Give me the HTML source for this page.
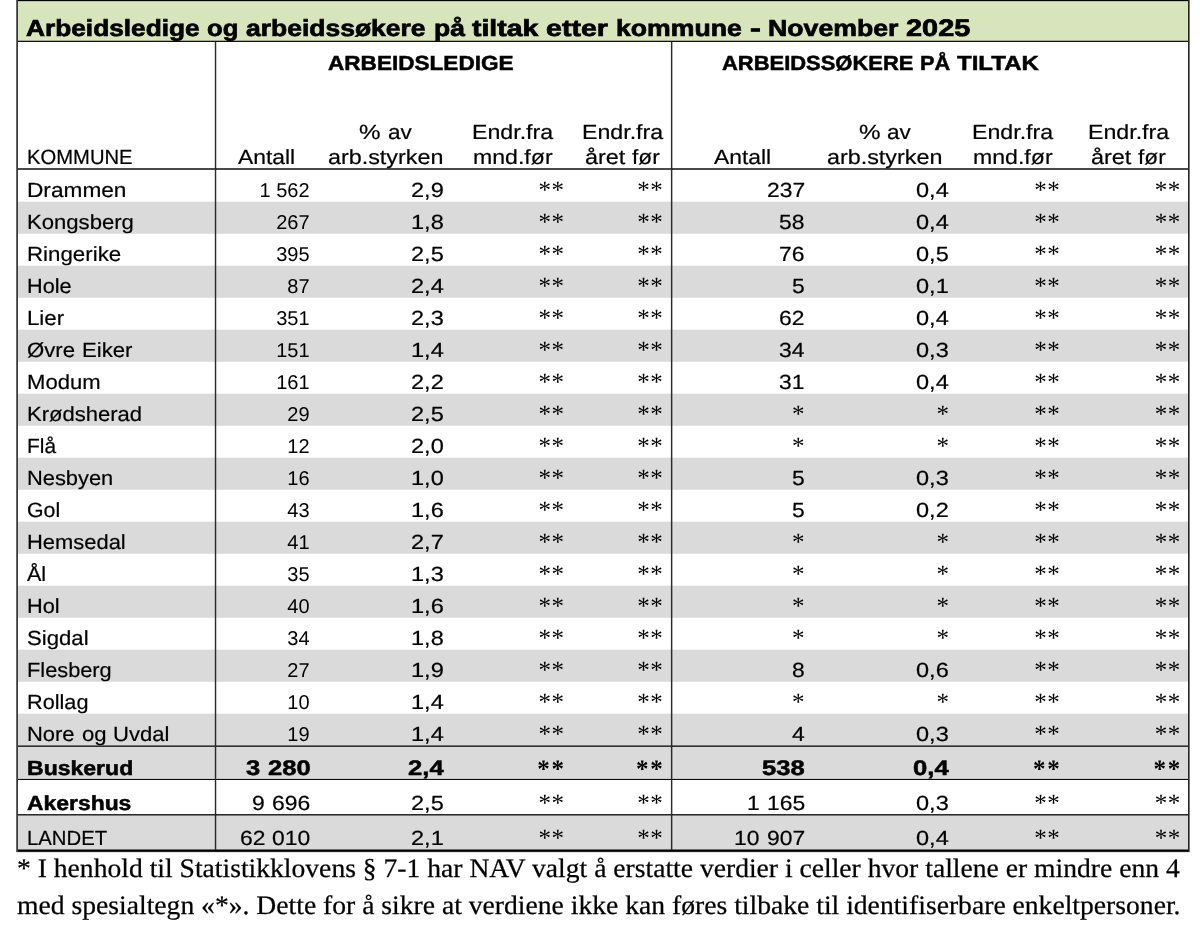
<!DOCTYPE html>
<html lang="no"><head><meta charset="utf-8"><title>Arbeidsledige og arbeidssøkere på tiltak etter kommune</title>
<style>
html,body{margin:0;padding:0;background:#fff}
body{width:1200px;height:946px;position:relative;overflow:hidden;font-family:"Liberation Sans",sans-serif;color:#000}
.b{position:absolute}
.t{position:absolute;white-space:pre;height:30px;line-height:30px}
.l{transform-origin:0 50%}.r{transform-origin:100% 50%}.c{transform-origin:50% 50%}
.s{font-family:"Liberation Serif",serif}
.g{background:#dadada;left:18px;width:1170px;border-top:1px solid #f2f2f2;border-bottom:1px solid #e4e4e4}
.k{background:#1a1a1a}
#txt{position:absolute;left:0;top:0;width:1200px;height:946px;will-change:transform;text-rendering:geometricPrecision}
</style></head><body>
<div class="b " style="left:18px;top:1px;width:1170px;height:40px;background:#d8e4bc"></div>
<div class="b g" style="top:201px;height:31px"></div>
<div class="b g" style="top:265px;height:31px"></div>
<div class="b g" style="top:329px;height:31px"></div>
<div class="b g" style="top:393px;height:31px"></div>
<div class="b g" style="top:457px;height:31px"></div>
<div class="b g" style="top:521px;height:31px"></div>
<div class="b g" style="top:585px;height:31px"></div>
<div class="b g" style="top:649px;height:31px"></div>
<div class="b g" style="top:713px;height:31px"></div>
<div class="b g" style="top:746px;height:31px"></div>
<div class="b g" style="top:815px;height:34px"></div>
<div class="b" style="left:16px;top:0px;width:1174px;height:1px;background:#000"></div>
<div class="b" style="left:16px;top:1px;width:1174px;height:1px;background:rgba(0,0,0,.15)"></div>
<div class="b" style="left:16px;top:40px;width:1174px;height:1px;background:rgba(0,0,0,.25)"></div>
<div class="b" style="left:16px;top:41px;width:1174px;height:1px;background:#111"></div>
<div class="b" style="left:16px;top:168px;width:1174px;height:1px;background:#4a4a4a"></div>
<div class="b" style="left:16px;top:169px;width:1174px;height:1px;background:#4a4a4a"></div>
<div class="b" style="left:16px;top:745px;width:1174px;height:1px;background:rgba(0,0,0,.5)"></div>
<div class="b" style="left:16px;top:746px;width:1174px;height:1px;background:#303030"></div>
<div class="b" style="left:16px;top:778px;width:1174px;height:1px;background:rgba(0,0,0,.12)"></div>
<div class="b" style="left:16px;top:779px;width:1174px;height:1px;background:#0a0a0a"></div>
<div class="b" style="left:16px;top:814px;width:1174px;height:1px;background:#2a2a2a"></div>
<div class="b" style="left:16px;top:815px;width:1174px;height:1px;background:rgba(0,0,0,.5)"></div>
<div class="b" style="left:16px;top:849px;width:1174px;height:1px;background:rgba(0,0,0,.5)"></div>
<div class="b" style="left:16px;top:850px;width:1174px;height:1px;background:#000"></div>
<div class="b" style="left:16px;top:851px;width:1174px;height:1px;background:#1c1c1c"></div>
<div class="b" style="left:16px;top:852px;width:1174px;height:1px;background:rgba(0,0,0,.1)"></div>
<div class="b" style="left:16px;top:0px;width:1px;height:852px;background:#666"></div>
<div class="b" style="left:17px;top:0px;width:1px;height:852px;background:#3a3a3a"></div>
<div class="b" style="left:1188px;top:0px;width:1px;height:852px;background:#262626"></div>
<div class="b" style="left:1189px;top:0px;width:1px;height:852px;background:#777"></div>
<div class="b" style="left:214px;top:42px;width:1px;height:808px;background:rgba(0,0,0,.15)"></div>
<div class="b" style="left:215px;top:42px;width:1px;height:808px;background:#2a2a2a"></div>
<div class="b" style="left:216px;top:42px;width:1px;height:808px;background:rgba(0,0,0,.2)"></div>
<div class="b" style="left:671px;top:42px;width:1px;height:808px;background:#2a2a2a"></div>
<div class="b" style="left:672px;top:42px;width:1px;height:808px;background:rgba(0,0,0,.3)"></div>
<div class="b" style="left:670px;top:42px;width:1px;height:808px;background:rgba(0,0,0,.08)"></div>
<div id="txt">
<div class="row">
<div class="t l" style="top:13px;font-size:23.2px;font-weight:bold;-webkit-text-stroke:0.7px #000;left:25.80px;transform:scaleX(1.1329);">Arbeidsledige</div>
<div class="t l" style="top:13px;font-size:23.2px;font-weight:bold;-webkit-text-stroke:0.7px #000;left:207.26px;transform:scaleX(1.1067);">og</div>
<div class="t l" style="top:13px;font-size:23.2px;font-weight:bold;-webkit-text-stroke:0.7px #000;left:246.34px;transform:scaleX(1.1417);">arbeidssøkere</div>
<div class="t l" style="top:13px;font-size:23.2px;font-weight:bold;-webkit-text-stroke:0.7px #000;left:433.64px;transform:scaleX(1.1426);">på</div>
<div class="t l" style="top:13px;font-size:23.2px;font-weight:bold;-webkit-text-stroke:0.7px #000;left:472.30px;transform:scaleX(1.2266);">tiltak</div>
<div class="t l" style="top:13px;font-size:23.2px;font-weight:bold;-webkit-text-stroke:0.7px #000;left:546.42px;transform:scaleX(1.2317);">etter</div>
<div class="t l" style="top:13px;font-size:23.2px;font-weight:bold;-webkit-text-stroke:0.7px #000;left:616.07px;transform:scaleX(1.1486);">kommune</div>
<div class="t l" style="top:13px;font-size:23.2px;font-weight:bold;-webkit-text-stroke:0.7px #000;left:749.62px;transform:scaleX(1.4038);">-</div>
<div class="t l" style="top:13px;font-size:23.2px;font-weight:bold;-webkit-text-stroke:0.7px #000;left:768.21px;transform:scaleX(1.1501);">November</div>
<div class="t l" style="top:14px;font-size:23.896px;font-weight:bold;-webkit-text-stroke:0.7px #000;left:906.37px;transform:scaleX(1.2109);">2025</div>
</div>
<div class="row">
<div class="t l" style="top:49px;font-size:20.5px;font-weight:bold;-webkit-text-stroke:0.5px #000;left:327.50px;transform:scaleX(1.1009);">ARBEIDSLEDIGE</div>
<div class="t l" style="top:49px;font-size:20.5px;font-weight:bold;-webkit-text-stroke:0.5px #000;left:722.00px;transform:scaleX(1.0700);">ARBEIDSSØKERE</div>
<div class="t l" style="top:49px;font-size:20.5px;font-weight:bold;-webkit-text-stroke:0.5px #000;left:920.20px;transform:scaleX(1.0595);">PÅ</div>
<div class="t l" style="top:49px;font-size:20.5px;font-weight:bold;-webkit-text-stroke:0.5px #000;left:957.22px;transform:scaleX(1.1726);">TILTAK</div>
<div class="t l" style="top:143px;font-size:20.5px;-webkit-text-stroke:0.2px #000;left:26.50px;transform:scaleX(0.9860);">KOMMUNE</div>
<div class="t l" style="top:143px;font-size:20.5px;-webkit-text-stroke:0.2px #000;left:238.30px;transform:scaleX(1.1154);">Antall</div>
<div class="t l" style="top:118px;font-size:20.5px;-webkit-text-stroke:0.2px #000;left:359.09px;transform:scaleX(1.1802);">%</div>
<div class="t l" style="top:118px;font-size:20.5px;-webkit-text-stroke:0.2px #000;left:387.65px;transform:scaleX(1.1018);">av</div>
<div class="t l" style="top:143px;font-size:20.5px;-webkit-text-stroke:0.2px #000;left:327.60px;transform:scaleX(1.1380);">arb.styrken</div>
<div class="t l" style="top:118px;font-size:20.5px;-webkit-text-stroke:0.2px #000;left:472.11px;transform:scaleX(1.1307);">Endr.fra</div>
<div class="t l" style="top:143px;font-size:20.5px;-webkit-text-stroke:0.2px #000;left:472.91px;transform:scaleX(1.1268);">mnd.før</div>
<div class="t l" style="top:118px;font-size:20.5px;-webkit-text-stroke:0.2px #000;left:581.81px;transform:scaleX(1.1307);">Endr.fra</div>
<div class="t l" style="top:143px;font-size:20.5px;-webkit-text-stroke:0.2px #000;left:584.84px;transform:scaleX(1.1424);">året</div>
<div class="t l" style="top:143px;font-size:20.5px;-webkit-text-stroke:0.2px #000;left:632.24px;transform:scaleX(1.1067);">før</div>
<div class="t l" style="top:143px;font-size:20.5px;-webkit-text-stroke:0.2px #000;left:713.65px;transform:scaleX(1.1154);">Antall</div>
<div class="t l" style="top:118px;font-size:20.5px;-webkit-text-stroke:0.2px #000;left:858.89px;transform:scaleX(1.1802);">%</div>
<div class="t l" style="top:118px;font-size:20.5px;-webkit-text-stroke:0.2px #000;left:887.45px;transform:scaleX(1.1018);">av</div>
<div class="t l" style="top:143px;font-size:20.5px;-webkit-text-stroke:0.2px #000;left:827.40px;transform:scaleX(1.1380);">arb.styrken</div>
<div class="t l" style="top:118px;font-size:20.5px;-webkit-text-stroke:0.2px #000;left:972.31px;transform:scaleX(1.1307);">Endr.fra</div>
<div class="t l" style="top:143px;font-size:20.5px;-webkit-text-stroke:0.2px #000;left:973.11px;transform:scaleX(1.1268);">mnd.før</div>
<div class="t l" style="top:118px;font-size:20.5px;-webkit-text-stroke:0.2px #000;left:1088.01px;transform:scaleX(1.1307);">Endr.fra</div>
<div class="t l" style="top:143px;font-size:20.5px;-webkit-text-stroke:0.2px #000;left:1091.04px;transform:scaleX(1.1424);">året</div>
<div class="t l" style="top:143px;font-size:20.5px;-webkit-text-stroke:0.2px #000;left:1138.44px;transform:scaleX(1.1067);">før</div>
</div>
<div class="row">
<div class="t l" style="top:176px;font-size:20.5px;-webkit-text-stroke:0.2px #000;left:26.90px;transform:scaleX(1.1053);">Drammen</div>
<div class="t r" style="top:176px;font-size:20px;right:890.40px;">1 562</div>
<div class="t l" style="top:176px;font-size:20.5px;-webkit-text-stroke:0.2px #000;left:410.78px;transform:scaleX(1.1481);">2,9</div>
<div class="t r s" style="top:176px;font-size:25px;letter-spacing:0.5px;right:635.50px;">**</div>
<div class="t r s" style="top:176px;font-size:25px;letter-spacing:0.5px;right:536.75px;">**</div>
<div class="t l" style="top:176px;font-size:20.5px;-webkit-text-stroke:0.2px #000;left:766.59px;transform:scaleX(1.1152);">237</div>
<div class="t l" style="top:176px;font-size:20.5px;-webkit-text-stroke:0.2px #000;left:916.28px;transform:scaleX(1.1481);">0,4</div>
<div class="t r s" style="top:176px;font-size:25px;letter-spacing:0.5px;right:139.75px;">**</div>
<div class="t r s" style="top:176px;font-size:25px;letter-spacing:0.5px;right:19.25px;">**</div>
</div>
<div class="row">
<div class="t l" style="top:208px;font-size:20.5px;-webkit-text-stroke:0.2px #000;left:26.90px;transform:scaleX(1.0781);">Kongsberg</div>
<div class="t r" style="top:208px;font-size:20px;right:890.40px;">267</div>
<div class="t l" style="top:208px;font-size:20.5px;-webkit-text-stroke:0.2px #000;left:410.78px;transform:scaleX(1.1481);">1,8</div>
<div class="t r s" style="top:208px;font-size:25px;letter-spacing:0.5px;right:635.50px;">**</div>
<div class="t r s" style="top:208px;font-size:25px;letter-spacing:0.5px;right:536.75px;">**</div>
<div class="t l" style="top:208px;font-size:20.5px;-webkit-text-stroke:0.2px #000;left:779.31px;transform:scaleX(1.1152);">58</div>
<div class="t l" style="top:208px;font-size:20.5px;-webkit-text-stroke:0.2px #000;left:916.28px;transform:scaleX(1.1481);">0,4</div>
<div class="t r s" style="top:208px;font-size:25px;letter-spacing:0.5px;right:139.75px;">**</div>
<div class="t r s" style="top:208px;font-size:25px;letter-spacing:0.5px;right:19.25px;">**</div>
</div>
<div class="row">
<div class="t l" style="top:240px;font-size:20.5px;-webkit-text-stroke:0.2px #000;left:26.90px;transform:scaleX(1.0876);">Ringerike</div>
<div class="t r" style="top:240px;font-size:20px;right:890.40px;">395</div>
<div class="t l" style="top:240px;font-size:20.5px;-webkit-text-stroke:0.2px #000;left:410.78px;transform:scaleX(1.1481);">2,5</div>
<div class="t r s" style="top:240px;font-size:25px;letter-spacing:0.5px;right:635.50px;">**</div>
<div class="t r s" style="top:240px;font-size:25px;letter-spacing:0.5px;right:536.75px;">**</div>
<div class="t l" style="top:240px;font-size:20.5px;-webkit-text-stroke:0.2px #000;left:779.31px;transform:scaleX(1.1152);">76</div>
<div class="t l" style="top:240px;font-size:20.5px;-webkit-text-stroke:0.2px #000;left:916.28px;transform:scaleX(1.1481);">0,5</div>
<div class="t r s" style="top:240px;font-size:25px;letter-spacing:0.5px;right:139.75px;">**</div>
<div class="t r s" style="top:240px;font-size:25px;letter-spacing:0.5px;right:19.25px;">**</div>
</div>
<div class="row">
<div class="t l" style="top:272px;font-size:20.5px;-webkit-text-stroke:0.2px #000;left:26.90px;transform:scaleX(1.0566);">Hole</div>
<div class="t r" style="top:272px;font-size:20px;right:890.40px;">87</div>
<div class="t l" style="top:272px;font-size:20.5px;-webkit-text-stroke:0.2px #000;left:410.78px;transform:scaleX(1.1481);">2,4</div>
<div class="t r s" style="top:272px;font-size:25px;letter-spacing:0.5px;right:635.50px;">**</div>
<div class="t r s" style="top:272px;font-size:25px;letter-spacing:0.5px;right:536.75px;">**</div>
<div class="t l" style="top:272px;font-size:20.5px;-webkit-text-stroke:0.2px #000;left:792.03px;transform:scaleX(1.1152);">5</div>
<div class="t l" style="top:272px;font-size:20.5px;-webkit-text-stroke:0.2px #000;left:916.28px;transform:scaleX(1.1481);">0,1</div>
<div class="t r s" style="top:272px;font-size:25px;letter-spacing:0.5px;right:139.75px;">**</div>
<div class="t r s" style="top:272px;font-size:25px;letter-spacing:0.5px;right:19.25px;">**</div>
</div>
<div class="row">
<div class="t l" style="top:304px;font-size:20.5px;-webkit-text-stroke:0.2px #000;left:26.90px;transform:scaleX(1.0846);">Lier</div>
<div class="t r" style="top:304px;font-size:20px;right:890.40px;">351</div>
<div class="t l" style="top:304px;font-size:20.5px;-webkit-text-stroke:0.2px #000;left:410.78px;transform:scaleX(1.1481);">2,3</div>
<div class="t r s" style="top:304px;font-size:25px;letter-spacing:0.5px;right:635.50px;">**</div>
<div class="t r s" style="top:304px;font-size:25px;letter-spacing:0.5px;right:536.75px;">**</div>
<div class="t l" style="top:304px;font-size:20.5px;-webkit-text-stroke:0.2px #000;left:779.31px;transform:scaleX(1.1152);">62</div>
<div class="t l" style="top:304px;font-size:20.5px;-webkit-text-stroke:0.2px #000;left:916.28px;transform:scaleX(1.1481);">0,4</div>
<div class="t r s" style="top:304px;font-size:25px;letter-spacing:0.5px;right:139.75px;">**</div>
<div class="t r s" style="top:304px;font-size:25px;letter-spacing:0.5px;right:19.25px;">**</div>
</div>
<div class="row">
<div class="t l" style="top:336px;font-size:20.5px;-webkit-text-stroke:0.2px #000;left:26.90px;transform:scaleX(1.0811);">Øvre</div>
<div class="t l" style="top:336px;font-size:20.5px;-webkit-text-stroke:0.2px #000;left:81.98px;transform:scaleX(1.0792);">Eiker</div>
<div class="t r" style="top:336px;font-size:20px;right:890.40px;">151</div>
<div class="t l" style="top:336px;font-size:20.5px;-webkit-text-stroke:0.2px #000;left:410.78px;transform:scaleX(1.1481);">1,4</div>
<div class="t r s" style="top:336px;font-size:25px;letter-spacing:0.5px;right:635.50px;">**</div>
<div class="t r s" style="top:336px;font-size:25px;letter-spacing:0.5px;right:536.75px;">**</div>
<div class="t l" style="top:336px;font-size:20.5px;-webkit-text-stroke:0.2px #000;left:779.31px;transform:scaleX(1.1152);">34</div>
<div class="t l" style="top:336px;font-size:20.5px;-webkit-text-stroke:0.2px #000;left:916.28px;transform:scaleX(1.1481);">0,3</div>
<div class="t r s" style="top:336px;font-size:25px;letter-spacing:0.5px;right:139.75px;">**</div>
<div class="t r s" style="top:336px;font-size:25px;letter-spacing:0.5px;right:19.25px;">**</div>
</div>
<div class="row">
<div class="t l" style="top:368px;font-size:20.5px;-webkit-text-stroke:0.2px #000;left:26.90px;transform:scaleX(1.0764);">Modum</div>
<div class="t r" style="top:368px;font-size:20px;right:890.40px;">161</div>
<div class="t l" style="top:368px;font-size:20.5px;-webkit-text-stroke:0.2px #000;left:410.78px;transform:scaleX(1.1481);">2,2</div>
<div class="t r s" style="top:368px;font-size:25px;letter-spacing:0.5px;right:635.50px;">**</div>
<div class="t r s" style="top:368px;font-size:25px;letter-spacing:0.5px;right:536.75px;">**</div>
<div class="t l" style="top:368px;font-size:20.5px;-webkit-text-stroke:0.2px #000;left:779.31px;transform:scaleX(1.1152);">31</div>
<div class="t l" style="top:368px;font-size:20.5px;-webkit-text-stroke:0.2px #000;left:916.28px;transform:scaleX(1.1481);">0,4</div>
<div class="t r s" style="top:368px;font-size:25px;letter-spacing:0.5px;right:139.75px;">**</div>
<div class="t r s" style="top:368px;font-size:25px;letter-spacing:0.5px;right:19.25px;">**</div>
</div>
<div class="row">
<div class="t l" style="top:400px;font-size:20.5px;-webkit-text-stroke:0.2px #000;left:26.90px;transform:scaleX(1.0739);">Krødsherad</div>
<div class="t r" style="top:400px;font-size:20px;right:890.40px;">29</div>
<div class="t l" style="top:400px;font-size:20.5px;-webkit-text-stroke:0.2px #000;left:410.78px;transform:scaleX(1.1481);">2,5</div>
<div class="t r s" style="top:400px;font-size:25px;letter-spacing:0.5px;right:635.50px;">**</div>
<div class="t r s" style="top:400px;font-size:25px;letter-spacing:0.5px;right:536.75px;">**</div>
<div class="t r s" style="top:400px;font-size:25px;letter-spacing:0.5px;right:395.00px;">*</div>
<div class="t r s" style="top:400px;font-size:25px;letter-spacing:0.5px;right:250.50px;">*</div>
<div class="t r s" style="top:400px;font-size:25px;letter-spacing:0.5px;right:139.75px;">**</div>
<div class="t r s" style="top:400px;font-size:25px;letter-spacing:0.5px;right:19.25px;">**</div>
</div>
<div class="row">
<div class="t l" style="top:432px;font-size:20.5px;-webkit-text-stroke:0.2px #000;left:26.90px;transform:scaleX(1.0181);">Flå</div>
<div class="t r" style="top:432px;font-size:20px;right:890.40px;">12</div>
<div class="t l" style="top:432px;font-size:20.5px;-webkit-text-stroke:0.2px #000;left:410.78px;transform:scaleX(1.1481);">2,0</div>
<div class="t r s" style="top:432px;font-size:25px;letter-spacing:0.5px;right:635.50px;">**</div>
<div class="t r s" style="top:432px;font-size:25px;letter-spacing:0.5px;right:536.75px;">**</div>
<div class="t r s" style="top:432px;font-size:25px;letter-spacing:0.5px;right:395.00px;">*</div>
<div class="t r s" style="top:432px;font-size:25px;letter-spacing:0.5px;right:250.50px;">*</div>
<div class="t r s" style="top:432px;font-size:25px;letter-spacing:0.5px;right:139.75px;">**</div>
<div class="t r s" style="top:432px;font-size:25px;letter-spacing:0.5px;right:19.25px;">**</div>
</div>
<div class="row">
<div class="t l" style="top:464px;font-size:20.5px;-webkit-text-stroke:0.2px #000;left:26.90px;transform:scaleX(1.0650);">Nesbyen</div>
<div class="t r" style="top:464px;font-size:20px;right:890.40px;">16</div>
<div class="t l" style="top:464px;font-size:20.5px;-webkit-text-stroke:0.2px #000;left:410.78px;transform:scaleX(1.1481);">1,0</div>
<div class="t r s" style="top:464px;font-size:25px;letter-spacing:0.5px;right:635.50px;">**</div>
<div class="t r s" style="top:464px;font-size:25px;letter-spacing:0.5px;right:536.75px;">**</div>
<div class="t l" style="top:464px;font-size:20.5px;-webkit-text-stroke:0.2px #000;left:792.03px;transform:scaleX(1.1152);">5</div>
<div class="t l" style="top:464px;font-size:20.5px;-webkit-text-stroke:0.2px #000;left:916.28px;transform:scaleX(1.1481);">0,3</div>
<div class="t r s" style="top:464px;font-size:25px;letter-spacing:0.5px;right:139.75px;">**</div>
<div class="t r s" style="top:464px;font-size:25px;letter-spacing:0.5px;right:19.25px;">**</div>
</div>
<div class="row">
<div class="t l" style="top:496px;font-size:20.5px;-webkit-text-stroke:0.2px #000;left:26.90px;transform:scaleX(1.0380);">Gol</div>
<div class="t r" style="top:496px;font-size:20px;right:890.40px;">43</div>
<div class="t l" style="top:496px;font-size:20.5px;-webkit-text-stroke:0.2px #000;left:410.78px;transform:scaleX(1.1481);">1,6</div>
<div class="t r s" style="top:496px;font-size:25px;letter-spacing:0.5px;right:635.50px;">**</div>
<div class="t r s" style="top:496px;font-size:25px;letter-spacing:0.5px;right:536.75px;">**</div>
<div class="t l" style="top:496px;font-size:20.5px;-webkit-text-stroke:0.2px #000;left:792.03px;transform:scaleX(1.1152);">5</div>
<div class="t l" style="top:496px;font-size:20.5px;-webkit-text-stroke:0.2px #000;left:916.28px;transform:scaleX(1.1481);">0,2</div>
<div class="t r s" style="top:496px;font-size:25px;letter-spacing:0.5px;right:139.75px;">**</div>
<div class="t r s" style="top:496px;font-size:25px;letter-spacing:0.5px;right:19.25px;">**</div>
</div>
<div class="row">
<div class="t l" style="top:528px;font-size:20.5px;-webkit-text-stroke:0.2px #000;left:26.90px;transform:scaleX(1.0694);">Hemsedal</div>
<div class="t r" style="top:528px;font-size:20px;right:890.40px;">41</div>
<div class="t l" style="top:528px;font-size:20.5px;-webkit-text-stroke:0.2px #000;left:410.78px;transform:scaleX(1.1481);">2,7</div>
<div class="t r s" style="top:528px;font-size:25px;letter-spacing:0.5px;right:635.50px;">**</div>
<div class="t r s" style="top:528px;font-size:25px;letter-spacing:0.5px;right:536.75px;">**</div>
<div class="t r s" style="top:528px;font-size:25px;letter-spacing:0.5px;right:395.00px;">*</div>
<div class="t r s" style="top:528px;font-size:25px;letter-spacing:0.5px;right:250.50px;">*</div>
<div class="t r s" style="top:528px;font-size:25px;letter-spacing:0.5px;right:139.75px;">**</div>
<div class="t r s" style="top:528px;font-size:25px;letter-spacing:0.5px;right:19.25px;">**</div>
</div>
<div class="row">
<div class="t l" style="top:560px;font-size:20.5px;-webkit-text-stroke:0.2px #000;left:26.90px;transform:scaleX(1.0508);">Ål</div>
<div class="t r" style="top:560px;font-size:20px;right:890.40px;">35</div>
<div class="t l" style="top:560px;font-size:20.5px;-webkit-text-stroke:0.2px #000;left:410.78px;transform:scaleX(1.1481);">1,3</div>
<div class="t r s" style="top:560px;font-size:25px;letter-spacing:0.5px;right:635.50px;">**</div>
<div class="t r s" style="top:560px;font-size:25px;letter-spacing:0.5px;right:536.75px;">**</div>
<div class="t r s" style="top:560px;font-size:25px;letter-spacing:0.5px;right:395.00px;">*</div>
<div class="t r s" style="top:560px;font-size:25px;letter-spacing:0.5px;right:250.50px;">*</div>
<div class="t r s" style="top:560px;font-size:25px;letter-spacing:0.5px;right:139.75px;">**</div>
<div class="t r s" style="top:560px;font-size:25px;letter-spacing:0.5px;right:19.25px;">**</div>
</div>
<div class="row">
<div class="t l" style="top:592px;font-size:20.5px;-webkit-text-stroke:0.2px #000;left:26.90px;transform:scaleX(1.0609);">Hol</div>
<div class="t r" style="top:592px;font-size:20px;right:890.40px;">40</div>
<div class="t l" style="top:592px;font-size:20.5px;-webkit-text-stroke:0.2px #000;left:410.78px;transform:scaleX(1.1481);">1,6</div>
<div class="t r s" style="top:592px;font-size:25px;letter-spacing:0.5px;right:635.50px;">**</div>
<div class="t r s" style="top:592px;font-size:25px;letter-spacing:0.5px;right:536.75px;">**</div>
<div class="t r s" style="top:592px;font-size:25px;letter-spacing:0.5px;right:395.00px;">*</div>
<div class="t r s" style="top:592px;font-size:25px;letter-spacing:0.5px;right:250.50px;">*</div>
<div class="t r s" style="top:592px;font-size:25px;letter-spacing:0.5px;right:139.75px;">**</div>
<div class="t r s" style="top:592px;font-size:25px;letter-spacing:0.5px;right:19.25px;">**</div>
</div>
<div class="row">
<div class="t l" style="top:624px;font-size:20.5px;-webkit-text-stroke:0.2px #000;left:26.90px;transform:scaleX(1.0804);">Sigdal</div>
<div class="t r" style="top:624px;font-size:20px;right:890.40px;">34</div>
<div class="t l" style="top:624px;font-size:20.5px;-webkit-text-stroke:0.2px #000;left:410.78px;transform:scaleX(1.1481);">1,8</div>
<div class="t r s" style="top:624px;font-size:25px;letter-spacing:0.5px;right:635.50px;">**</div>
<div class="t r s" style="top:624px;font-size:25px;letter-spacing:0.5px;right:536.75px;">**</div>
<div class="t r s" style="top:624px;font-size:25px;letter-spacing:0.5px;right:395.00px;">*</div>
<div class="t r s" style="top:624px;font-size:25px;letter-spacing:0.5px;right:250.50px;">*</div>
<div class="t r s" style="top:624px;font-size:25px;letter-spacing:0.5px;right:139.75px;">**</div>
<div class="t r s" style="top:624px;font-size:25px;letter-spacing:0.5px;right:19.25px;">**</div>
</div>
<div class="row">
<div class="t l" style="top:656px;font-size:20.5px;-webkit-text-stroke:0.2px #000;left:26.90px;transform:scaleX(1.0619);">Flesberg</div>
<div class="t r" style="top:656px;font-size:20px;right:890.40px;">27</div>
<div class="t l" style="top:656px;font-size:20.5px;-webkit-text-stroke:0.2px #000;left:410.78px;transform:scaleX(1.1481);">1,9</div>
<div class="t r s" style="top:656px;font-size:25px;letter-spacing:0.5px;right:635.50px;">**</div>
<div class="t r s" style="top:656px;font-size:25px;letter-spacing:0.5px;right:536.75px;">**</div>
<div class="t l" style="top:656px;font-size:20.5px;-webkit-text-stroke:0.2px #000;left:792.03px;transform:scaleX(1.1152);">8</div>
<div class="t l" style="top:656px;font-size:20.5px;-webkit-text-stroke:0.2px #000;left:916.28px;transform:scaleX(1.1481);">0,6</div>
<div class="t r s" style="top:656px;font-size:25px;letter-spacing:0.5px;right:139.75px;">**</div>
<div class="t r s" style="top:656px;font-size:25px;letter-spacing:0.5px;right:19.25px;">**</div>
</div>
<div class="row">
<div class="t l" style="top:688px;font-size:20.5px;-webkit-text-stroke:0.2px #000;left:26.90px;transform:scaleX(1.0577);">Rollag</div>
<div class="t r" style="top:688px;font-size:20px;right:890.40px;">10</div>
<div class="t l" style="top:688px;font-size:20.5px;-webkit-text-stroke:0.2px #000;left:410.78px;transform:scaleX(1.1481);">1,4</div>
<div class="t r s" style="top:688px;font-size:25px;letter-spacing:0.5px;right:635.50px;">**</div>
<div class="t r s" style="top:688px;font-size:25px;letter-spacing:0.5px;right:536.75px;">**</div>
<div class="t r s" style="top:688px;font-size:25px;letter-spacing:0.5px;right:395.00px;">*</div>
<div class="t r s" style="top:688px;font-size:25px;letter-spacing:0.5px;right:250.50px;">*</div>
<div class="t r s" style="top:688px;font-size:25px;letter-spacing:0.5px;right:139.75px;">**</div>
<div class="t r s" style="top:688px;font-size:25px;letter-spacing:0.5px;right:19.25px;">**</div>
</div>
<div class="row">
<div class="t l" style="top:720px;font-size:20.5px;-webkit-text-stroke:0.2px #000;left:26.90px;transform:scaleX(1.0703);">Nore</div>
<div class="t l" style="top:720px;font-size:20.5px;-webkit-text-stroke:0.2px #000;left:81.50px;transform:scaleX(1.0784);">og</div>
<div class="t l" style="top:720px;font-size:20.5px;-webkit-text-stroke:0.2px #000;left:113.14px;transform:scaleX(1.0766);">Uvdal</div>
<div class="t r" style="top:720px;font-size:20px;right:890.40px;">19</div>
<div class="t l" style="top:720px;font-size:20.5px;-webkit-text-stroke:0.2px #000;left:410.78px;transform:scaleX(1.1481);">1,4</div>
<div class="t r s" style="top:720px;font-size:25px;letter-spacing:0.5px;right:635.50px;">**</div>
<div class="t r s" style="top:720px;font-size:25px;letter-spacing:0.5px;right:536.75px;">**</div>
<div class="t l" style="top:720px;font-size:20.5px;-webkit-text-stroke:0.2px #000;left:792.03px;transform:scaleX(1.1152);">4</div>
<div class="t l" style="top:720px;font-size:20.5px;-webkit-text-stroke:0.2px #000;left:916.28px;transform:scaleX(1.1481);">0,3</div>
<div class="t r s" style="top:720px;font-size:25px;letter-spacing:0.5px;right:139.75px;">**</div>
<div class="t r s" style="top:720px;font-size:25px;letter-spacing:0.5px;right:19.25px;">**</div>
</div>
<div class="row">
<div class="t l" style="top:754px;font-size:20.5px;font-weight:bold;-webkit-text-stroke:0.5px #000;left:27.00px;transform:scaleX(1.1231);">Buskerud</div>
<div class="t l" style="top:754px;font-size:21.115px;font-weight:bold;-webkit-text-stroke:0.5px #000;left:246.48px;transform:scaleX(1.2102);">3</div>
<div class="t l" style="top:754px;font-size:21.115px;font-weight:bold;-webkit-text-stroke:0.5px #000;left:267.54px;transform:scaleX(1.2107);">280</div>
<div class="t l" style="top:754px;font-size:21.115px;font-weight:bold;-webkit-text-stroke:0.5px #000;left:407.84px;transform:scaleX(1.2146);">2,4</div>
<div class="t r s" style="top:755px;font-size:25px;font-weight:bold;letter-spacing:1.7px;right:634.30px;">**</div>
<div class="t r s" style="top:755px;font-size:25px;font-weight:bold;letter-spacing:1.7px;right:535.55px;">**</div>
<div class="t l" style="top:754px;font-size:21.115px;font-weight:bold;-webkit-text-stroke:0.5px #000;left:762.09px;transform:scaleX(1.2107);">538</div>
<div class="t l" style="top:754px;font-size:21.115px;font-weight:bold;-webkit-text-stroke:0.5px #000;left:913.34px;transform:scaleX(1.2146);">0,4</div>
<div class="t r s" style="top:755px;font-size:25px;font-weight:bold;letter-spacing:1.7px;right:138.55px;">**</div>
<div class="t r s" style="top:755px;font-size:25px;font-weight:bold;letter-spacing:1.7px;right:18.05px;">**</div>
</div>
<div class="row">
<div class="t l" style="top:789px;font-size:20.5px;font-weight:bold;-webkit-text-stroke:0.5px #000;left:27.00px;transform:scaleX(1.1169);">Akershus</div>
<div class="t l" style="top:789px;font-size:20.5px;-webkit-text-stroke:0.2px #000;left:252.28px;transform:scaleX(1.1152);">9</div>
<div class="t l" style="top:789px;font-size:20.5px;-webkit-text-stroke:0.2px #000;left:272.04px;transform:scaleX(1.1152);">696</div>
<div class="t l" style="top:789px;font-size:20.5px;-webkit-text-stroke:0.2px #000;left:410.78px;transform:scaleX(1.1481);">2,5</div>
<div class="t r s" style="top:789px;font-size:25px;letter-spacing:0.5px;right:635.50px;">**</div>
<div class="t r s" style="top:789px;font-size:25px;letter-spacing:0.5px;right:536.75px;">**</div>
<div class="t l" style="top:789px;font-size:20.5px;-webkit-text-stroke:0.2px #000;left:746.83px;transform:scaleX(1.1152);">1</div>
<div class="t l" style="top:789px;font-size:20.5px;-webkit-text-stroke:0.2px #000;left:766.59px;transform:scaleX(1.1152);">165</div>
<div class="t l" style="top:789px;font-size:20.5px;-webkit-text-stroke:0.2px #000;left:916.28px;transform:scaleX(1.1481);">0,3</div>
<div class="t r s" style="top:789px;font-size:25px;letter-spacing:0.5px;right:139.75px;">**</div>
<div class="t r s" style="top:789px;font-size:25px;letter-spacing:0.5px;right:19.25px;">**</div>
</div>
<div class="row">
<div class="t l" style="top:824px;font-size:20.5px;-webkit-text-stroke:0.2px #000;left:26.90px;transform:scaleX(0.9910);">LANDET</div>
<div class="t l" style="top:824px;font-size:20.5px;-webkit-text-stroke:0.2px #000;left:239.56px;transform:scaleX(1.1152);">62</div>
<div class="t l" style="top:824px;font-size:20.5px;-webkit-text-stroke:0.2px #000;left:272.04px;transform:scaleX(1.1152);">010</div>
<div class="t l" style="top:824px;font-size:20.5px;-webkit-text-stroke:0.2px #000;left:410.78px;transform:scaleX(1.1481);">2,1</div>
<div class="t r s" style="top:824px;font-size:25px;letter-spacing:0.5px;right:635.50px;">**</div>
<div class="t r s" style="top:824px;font-size:25px;letter-spacing:0.5px;right:536.75px;">**</div>
<div class="t l" style="top:824px;font-size:20.5px;-webkit-text-stroke:0.2px #000;left:734.11px;transform:scaleX(1.1152);">10</div>
<div class="t l" style="top:824px;font-size:20.5px;-webkit-text-stroke:0.2px #000;left:766.59px;transform:scaleX(1.1152);">907</div>
<div class="t l" style="top:824px;font-size:20.5px;-webkit-text-stroke:0.2px #000;left:916.28px;transform:scaleX(1.1481);">0,4</div>
<div class="t r s" style="top:824px;font-size:25px;letter-spacing:0.5px;right:139.75px;">**</div>
<div class="t r s" style="top:824px;font-size:25px;letter-spacing:0.5px;right:19.25px;">**</div>
</div>
<div class="row">
<div class="t l s" style="top:853px;font-size:26.7px;-webkit-text-stroke:0.25px #000;left:16.80px;transform:scaleX(1.0344);">* I henhold til Statistikklovens § 7-1 har NAV valgt å erstatte verdier i celler hvor tallene er mindre enn 4</div>
<div class="t l s" style="top:890px;font-size:26.7px;-webkit-text-stroke:0.25px #000;left:17.00px;transform:scaleX(1.0350);">med spesialtegn «*». Dette for å sikre at verdiene ikke kan føres tilbake til identifiserbare enkeltpersoner.</div>
</div>
</div>
</body></html>
